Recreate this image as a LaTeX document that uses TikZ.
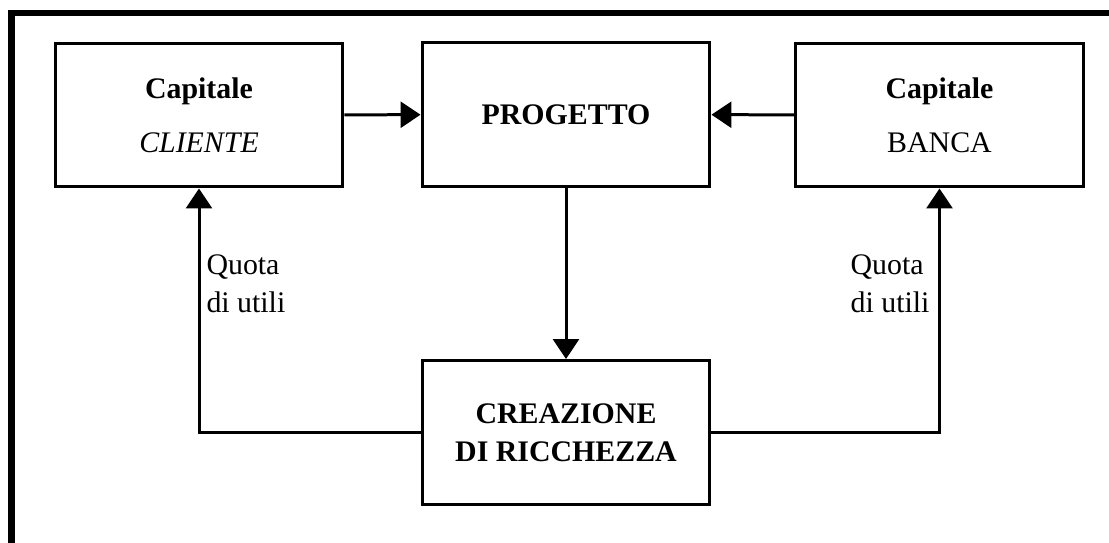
\documentclass[tikz,border=0pt]{standalone}
\usepackage{fontspec}
\setmainfont{Liberation Serif}
\usepackage{tikz}
\usetikzlibrary{arrows.meta}

\begin{document}
\begin{tikzpicture}[x=0.02cm, y=-0.02cm, line width=0.06cm,
    >={Triangle[length=0.4cm,width=0.52cm]},
    box/.style={draw, minimum width=5.76cm, minimum height=2.88cm, align=center, inner sep=0pt, font=\fontsize{17}{21.6}\selectfont},
    lbl/.style={align=left, inner sep=0pt, font=\fontsize{17}{21.6}\selectfont}]
    \useasboundingbox (0,0) rectangle (1109,542);
    \draw[line width=0.13cm] (1115,13) -- (11.5,13) -- (11.5,548);

    \node[box](cl) at (199,115) {\textbf{Capitale}\\[9pt] \textit{CLIENTE}};
    \node[box](pr) at (566,114.5) {\textbf{PROGETTO}};
    \node[box](ba) at (939.5,115) {\textbf{Capitale}\\[9pt] BANCA};
    \node[box](cr) at (566,432.5) {\textbf{CREAZIONE}\\\textbf{DI RICCHEZZA}};

    \node[lbl, anchor=west](ql) at (205,284) {Quota\\di utili};
    \node[lbl, anchor=east](qr) at (931,284) {Quota\\di utili};

    \draw[->] (cl) -- (pr);
    \draw[->] (ba) -- (pr);
    \draw[->] (pr) -- (cr);
    \draw[->] (cr.west) -| (cl.south);
    \draw[->] (cr.east) -| (ba.south);
\end{tikzpicture}
\end{document}
